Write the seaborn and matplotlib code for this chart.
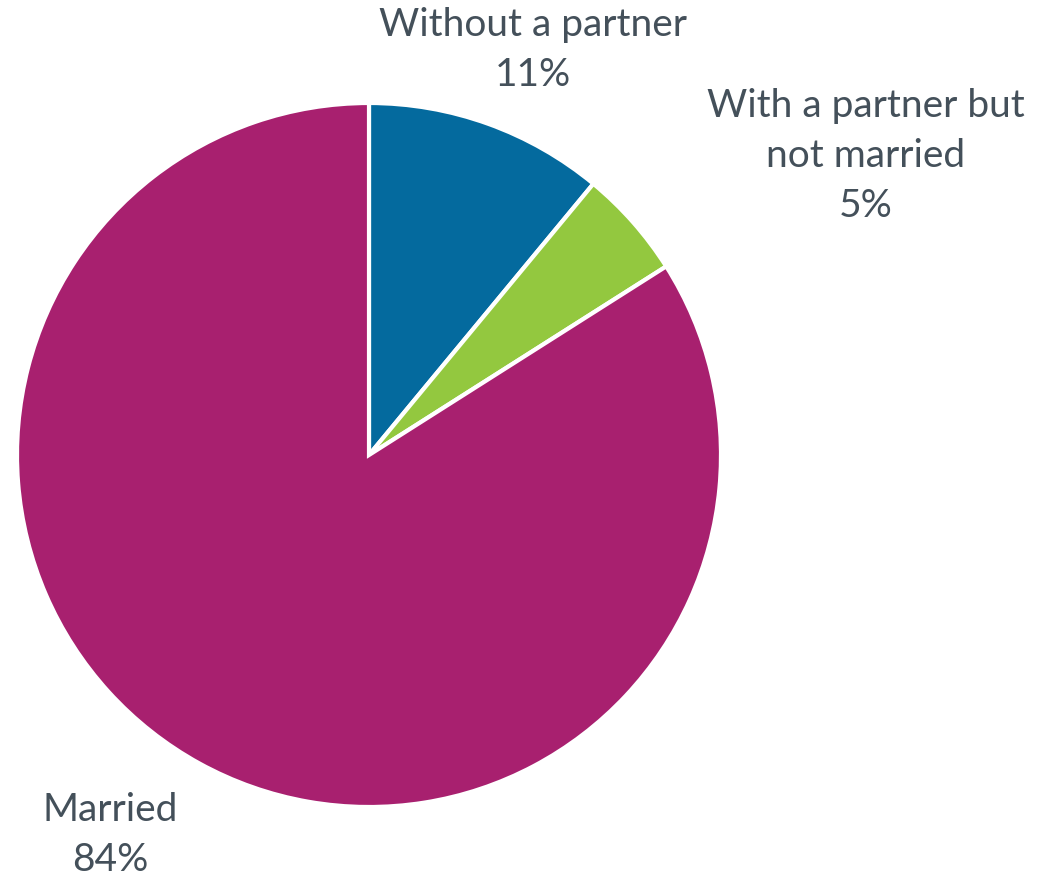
import matplotlib
matplotlib.use("Agg")
import matplotlib.pyplot as plt
import seaborn as sns
import numpy as np

categories = ["Without a partner", "With a partner but\nnot married", "Married"]
values = [11, 5, 84]
colors = ["#046A9E", "#93C83F", "#A8206F"]

sns.set_theme(style="white")
plt.rcParams['font.family'] = ['Lato', 'DejaVu Sans']
text_color = "#44505A"

fig = plt.figure(figsize=(10.38, 8.82), dpi=100)
cx, cy, r = 369, 455, 352
W, H = 1038, 882
ax = fig.add_axes([(cx - r) / W, (H - cy - r) / H, 2 * r / W, 2 * r / H])
wedges, _ = ax.pie(values, colors=colors, startangle=90, counterclock=False,
                   radius=1, wedgeprops=dict(edgecolor="white", linewidth=3))
ax.set_xlim(-1, 1)
ax.set_ylim(-1, 1)
ax.set_aspect("equal")
ax.axis("off")

# label centers in pixel coordinates
label_px = [(533, 50), (866, 156), (110, 835)]
for cat, val, (px, py) in zip(categories, values, label_px):
    x = (px - cx) / r
    y = (cy - py) / r
    ax.text(x, y, f"{cat}\n{val}%", ha="center", va="center",
            fontsize=28, color=text_color, linespacing=1.48, clip_on=False)

fig.savefig("out.png", dpi=100)
